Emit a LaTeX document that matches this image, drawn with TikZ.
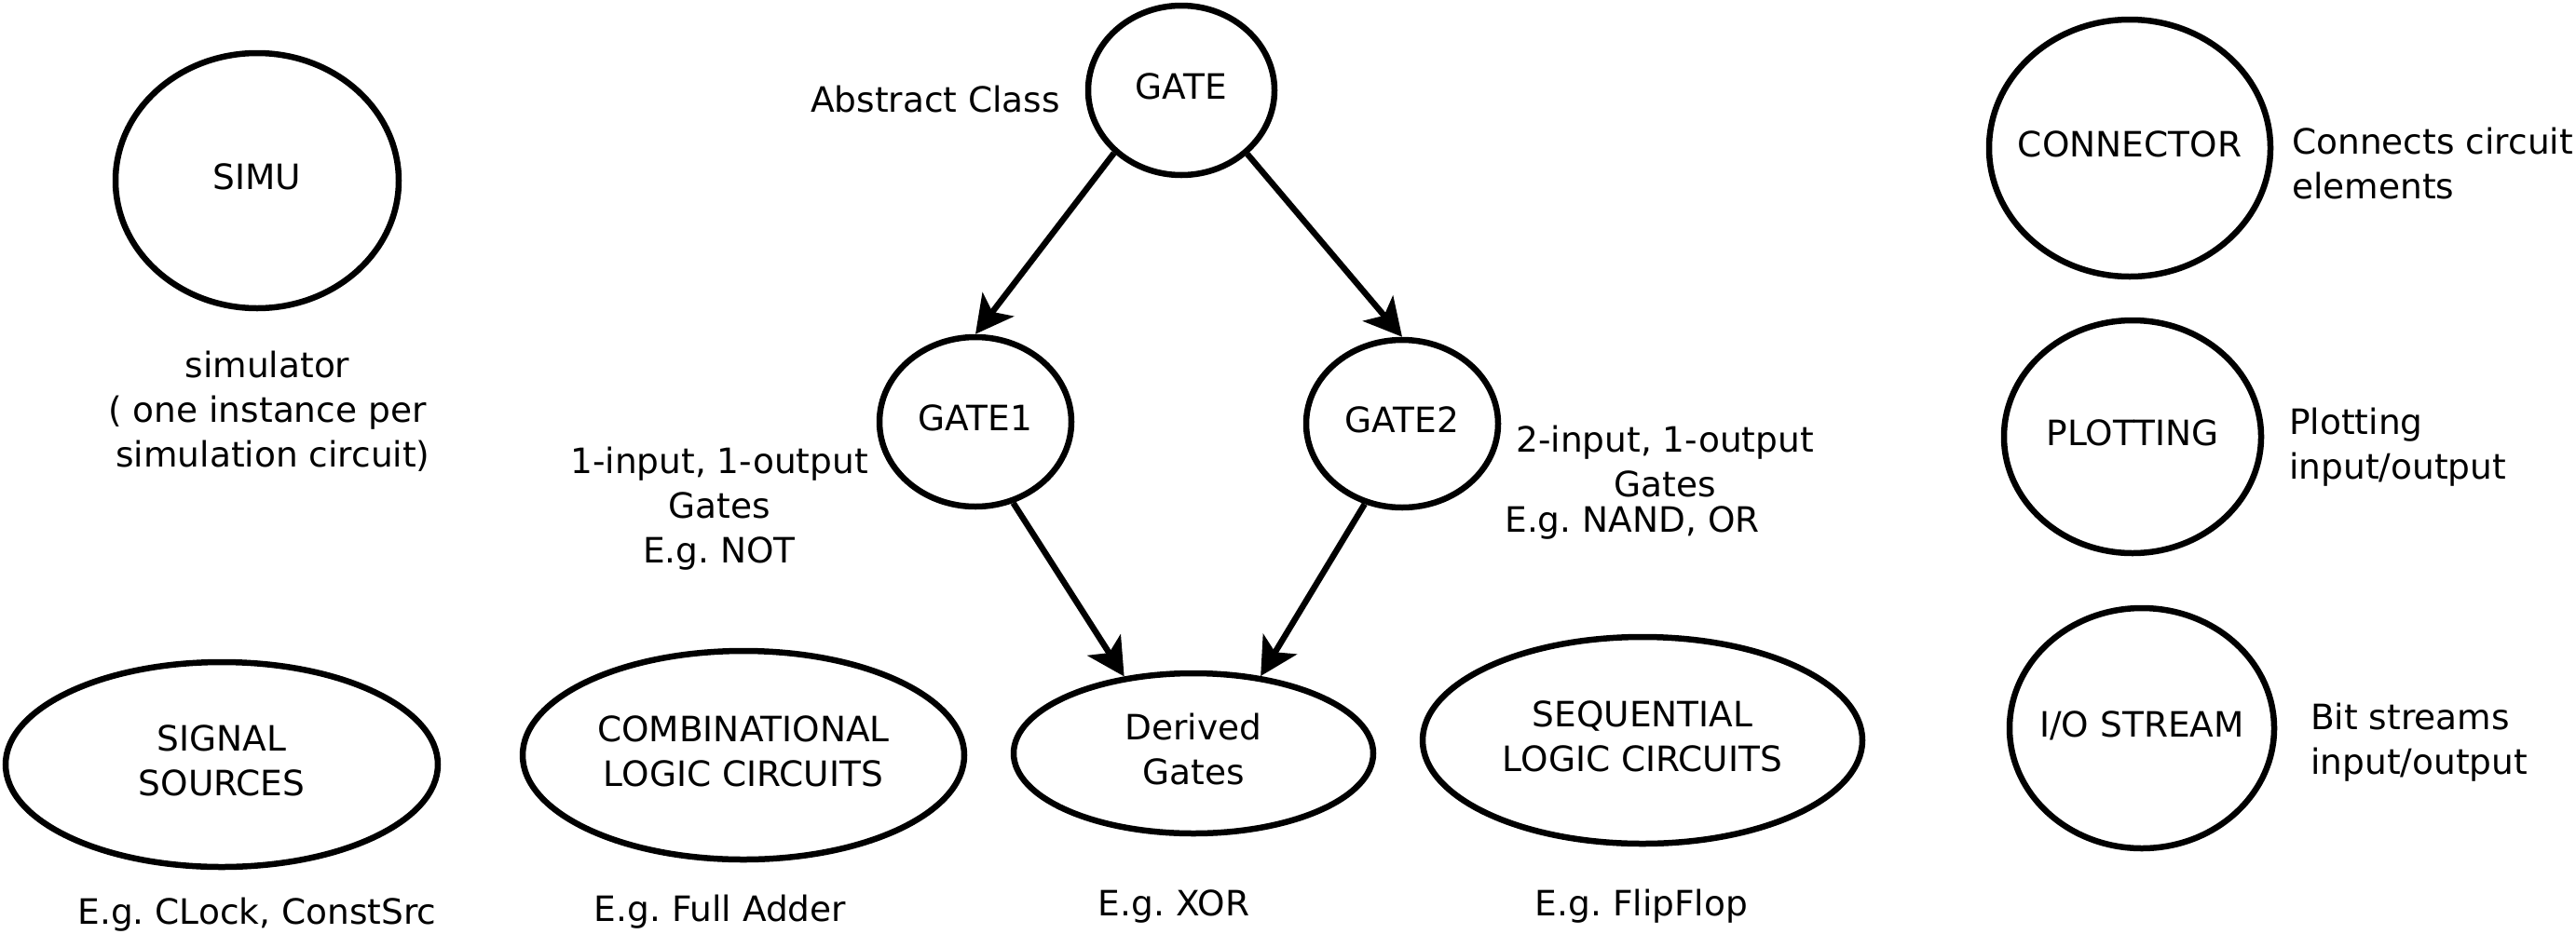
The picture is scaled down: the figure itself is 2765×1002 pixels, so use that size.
\documentclass[tikz,border=0pt]{standalone}
\usepackage{fontspec}
\setmainfont{DejaVu Sans}
\usetikzlibrary{arrows.meta,shapes.geometric}
\frenchspacing
\newcommand\clines[1]{\begin{tabular}[t]{@{}c@{}}#1\end{tabular}}
\newcommand\llines[1]{\begin{tabular}[t]{@{}l@{}}#1\end{tabular}}
\newcommand\inell[1]{\makebox[0pt]{\begin{tabular}{@{}c@{}}#1\end{tabular}}}
\begin{document}
\begin{tikzpicture}[x=1pt,y=-1pt,
  every node/.style={font=\fontsize{37.5}{48}\selectfont\frenchspacing, inner sep=0pt},
  ell/.style={draw, ellipse, line width=6.5pt, inner sep=0pt},
  lbl/.style={anchor=base},
  lblw/.style={anchor=base west},
  arr/.style={line width=6.5pt, -{Stealth[length=40pt,width=42pt,inset=10pt]}}]
\fill[white] (0,0) rectangle (2765,1002);
\useasboundingbox (0,0) rectangle (2765,1002);

% left column
\node[ell, minimum width=304pt, minimum height=274pt] (simu) at (276,194) {\inell{SIMU}};
\node[lbl] (simtxt) at (287,405) {\clines{simulator\\( one instance per\\ \ simulation circuit)}};
\node[ell, minimum width=464pt, minimum height=220pt] (signal) at (238,821) {\inell{SIGNAL\\SOURCES}};
\node[lbl] (sigeg) at (276,992) {E.g. CLock, ConstSrc};

% gates
\node[lbl] (abs) at (1004,120) {Abstract Class};
\node[ell, minimum width=200pt, minimum height=182pt] (gate) at (1268,97) {\inell{GATE}};
\node[ell, minimum width=206pt, minimum height=182pt] (gate1) at (1047,453) {\inell{GATE1}};
\node[ell, minimum width=206pt, minimum height=180pt] (gate2) at (1505,455) {\inell{GATE2}};
\node[lbl] (g1txt) at (772,508) {\clines{1-input, 1-output\\Gates\\E.g. NOT}};
\node[lbl] (g2txt) at (1787,485) {\clines{2-input, 1-output\\Gates}};
\node[lbl] (g2eg) at (1752,571) {E.g. NAND, OR};

% bottom row
\node[ell, minimum width=474pt, minimum height=224pt] (comb) at (798,811) {\inell{COMBINATIONAL\\LOGIC CIRCUITS}};
\node[lbl] (combeg) at (773,989) {E.g. Full Adder};
\node[ell, minimum width=386pt, minimum height=172pt] (derived) at (1281,809) {\inell{Derived\\Gates}};
\node[lbl] (dereg) at (1260,983) {E.g. XOR};
\node[ell, minimum width=472pt, minimum height=222pt] (seq) at (1763,795) {\inell{SEQUENTIAL\\LOGIC CIRCUITS}};
\node[lbl] (seqeg) at (1762,983) {E.g. FlipFlop};

% right column
\node[ell, minimum width=302pt, minimum height=276pt] (conn) at (2286,159) {\inell{CONNECTOR}};
\node[lblw] (conntxt) at (2460,165) {\llines{Connects circuit\\elements}};
\node[ell, minimum width=276pt, minimum height=250pt] (plot) at (2289,469) {\inell{PLOTTING}};
\node[lblw] (plottxt) at (2457,466) {\llines{Plotting\\input/output}};
\node[ell, minimum width=284pt, minimum height=258pt] (io) at (2299,782) {\inell{I/O STREAM}};
\node[lblw] (iotxt) at (2480,783) {\llines{Bit streams\\input/output}};

% connectors
\draw[arr] (gate.223) -- (gate1.north);
\draw[arr] (gate.316) -- (gate2.north);
\draw[arr] (gate1.295) -- (derived.132);
\draw[arr] (gate2.245) -- (derived.49);
\end{tikzpicture}
\end{document}
